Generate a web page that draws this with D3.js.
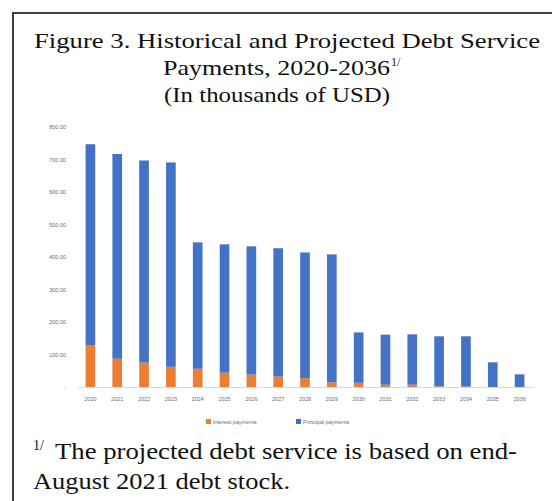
<!DOCTYPE html>
<html><head><meta charset="utf-8">
<script src="https://cdn.jsdelivr.net/npm/d3@7"></script>
<style>html,body{margin:0;padding:0;background:#fff;}svg{display:block;}</style>
</head><body>
<svg id="c" width="552" height="501"></svg>
<script>
const years = ["2020","2021","2022","2023","2024","2025","2026","2027","2028","2029","2030","2031","2032","2033","2034","2035","2036"];
const interest = [129,87,75,62,56,44,38,32,27,14,13,7,7,2,1,0,0];
const principal = [618,630,622,629,389,395,395,395,387,394,155,154,155,154,155,76,39];
const yTicks = [0,100,200,300,400,500,600,700,800];
const seriesNames = ["Interest payments","Principal payments"];
const colors = ["#ED7D31","#4472C4"];

const svg = d3.select("#c");
// frame
svg.append("path").attr("d","M13,501 V13 H552").attr("fill","none").attr("stroke","#404040").attr("stroke-width",2);

const serif = "'Liberation Serif','Times New Roman',serif";
const t = svg.append("g").attr("font-family",serif).attr("fill","#111");
t.append("text").attr("x",34).attr("y",48).attr("font-size",22)
  .attr("textLength",506).attr("lengthAdjust","spacingAndGlyphs").text("Figure 3. Historical and Projected Debt Service");
t.append("text").attr("x",163).attr("y",75).attr("font-size",22)
  .attr("textLength",227).attr("lengthAdjust","spacingAndGlyphs").text("Payments, 2020-2036");
t.append("text").attr("x",391).attr("y",66).attr("font-size",12).text("1/");
t.append("text").attr("x",164).attr("y",102).attr("font-size",22)
  .attr("textLength",226).attr("lengthAdjust","spacingAndGlyphs").text("(In thousands of USD)");

t.append("text").attr("x",33).attr("y",450).attr("font-size",14).text("1/");
t.append("text").attr("x",55).attr("y",459).attr("font-size",23)
  .attr("textLength",462).attr("lengthAdjust","spacingAndGlyphs").text("The projected debt service is based on end-");
t.append("text").attr("x",33).attr("y",489).attr("font-size",23)
  .attr("textLength",257).attr("lengthAdjust","spacingAndGlyphs").text("August 2021 debt stock.");

const x = d3.scaleBand().domain(years).range([77,533]).paddingInner(0.64).paddingOuter(0.32);
const y = d3.scaleLinear().domain([0,800]).range([387,127]);

const data = years.map((yr,i)=>({year:yr, interest:interest[i], principal:principal[i]}));
const stack = d3.stack().keys(["interest","principal"])(data);

svg.append("g").selectAll("g").data(stack).join("g").attr("fill",(d,i)=>colors[i])
  .selectAll("rect").data(d=>d).join("rect")
  .attr("x",d=>x(d.data.year)).attr("width",x.bandwidth())
  .attr("y",d=>y(d[1])).attr("height",d=>y(d[0])-y(d[1]));

// x axis
const xa = svg.append("g").attr("transform","translate(0,387)")
  .call(d3.axisBottom(x).tickSize(0).tickPadding(10));
xa.select(".domain").attr("stroke","#d9d9d9").attr("stroke-width",1.2);
xa.selectAll("text").attr("font-size",5.5).attr("fill","#6b6b7b").attr("font-family","'Liberation Sans',Arial,sans-serif");

// y axis
const ya = svg.append("g").attr("transform","translate(66,0)")
  .call(d3.axisLeft(y).tickValues(yTicks).tickSize(0).tickPadding(0).tickFormat(v=>v===0?"-":d3.format(".2f")(v)));
ya.select(".domain").remove();
ya.selectAll("text").attr("font-size",5.5).attr("fill","#6b6b7b").attr("font-family","'Liberation Sans',Arial,sans-serif");

// legend
const lg = svg.append("g").attr("font-family","'Liberation Sans',Arial,sans-serif").attr("font-size",5.5).attr("fill","#6b6b7b");
const lx = [206,296];
seriesNames.forEach((n,i)=>{
  lg.append("rect").attr("x",lx[i]).attr("y",419).attr("width",5).attr("height",5).attr("fill",colors[i]);
  lg.append("text").attr("x",lx[i]+7).attr("y",423.5).text(n);
});
</script>
</body></html>
